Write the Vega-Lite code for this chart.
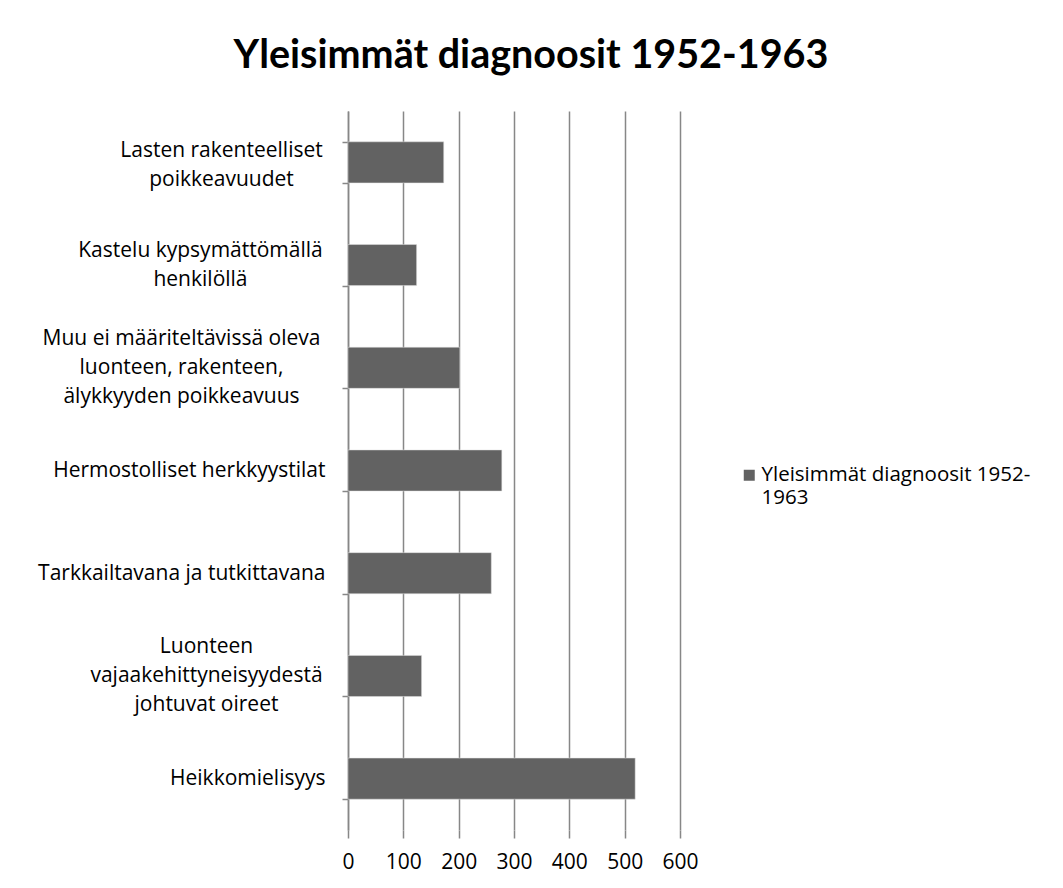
{
  "$schema": "https://vega.github.io/schema/vega-lite/v6.json",
  "width": 332,
  "height": 719,
  "autosize": {"type": "none"},
  "padding": {"left": 348, "top": 111, "right": 383, "bottom": 58},
  "background": "white",
  "title": {
    "text": "Yleisimmät diagnoosit 1952-1963",
    "font": "Lato",
    "fontSize": 39.5,
    "fontWeight": "bold",
    "color": "#000000",
    "anchor": "middle",
    "dx": 17,
    "baseline": "alphabetic",
    "offset": -7
  },
  "data": {
    "values": [
      {"diagnoosi": "Lasten rakenteelliset|poikkeavuudet", "maara": 173, "sarja": "Yleisimmät diagnoosit 1952-1963"},
      {"diagnoosi": "Kastelu kypsymättömällä|henkilöllä", "maara": 124, "sarja": "Yleisimmät diagnoosit 1952-1963"},
      {"diagnoosi": "Muu ei määriteltävissä oleva|luonteen, rakenteen,|älykkyyden poikkeavuus", "maara": 202, "sarja": "Yleisimmät diagnoosit 1952-1963"},
      {"diagnoosi": "Hermostolliset herkkyystilat", "maara": 278, "sarja": "Yleisimmät diagnoosit 1952-1963"},
      {"diagnoosi": "Tarkkailtavana ja tutkittavana", "maara": 259, "sarja": "Yleisimmät diagnoosit 1952-1963"},
      {"diagnoosi": "Luonteen|vajaakehittyneisyydestä|johtuvat oireet", "maara": 133, "sarja": "Yleisimmät diagnoosit 1952-1963"},
      {"diagnoosi": "Heikkomielisyys", "maara": 519, "sarja": "Yleisimmät diagnoosit 1952-1963"}
    ]
  },
  "mark": {"type": "bar", "stroke": "#e0e0e0", "strokeWidth": 0.5},
  "encoding": {
    "y": {
      "field": "diagnoosi",
      "type": "nominal",
      "sort": null,
      "scale": {"paddingInner": 0.6, "paddingOuter": 0.3},
      "axis": {
        "title": null,
        "labelExpr": "split(datum.label, '|')",
        "labelFont": "Open Sans",
        "labelFontSize": 21,
        "labelColor": "#000000",
        "labelLineHeight": 29,
        "labelLimit": 400,
        "labelAlign": {
          "condition": {"test": "datum.value === 'Lasten rakenteelliset|poikkeavuudet' || datum.value === 'Kastelu kypsymättömällä|henkilöllä' || datum.value === 'Muu ei määriteltävissä oleva|luonteen, rakenteen,|älykkyyden poikkeavuus' || datum.value === 'Luonteen|vajaakehittyneisyydestä|johtuvat oireet'", "value": "center"},
          "value": "right"
        },
        "labelPadding": {
          "condition": [
            {"test": "datum.value === 'Lasten rakenteelliset|poikkeavuudet'", "value": 121},
            {"test": "datum.value === 'Kastelu kypsymättömällä|henkilöllä'", "value": 142},
            {"test": "datum.value === 'Muu ei määriteltävissä oleva|luonteen, rakenteen,|älykkyyden poikkeavuus'", "value": 161},
            {"test": "datum.value === 'Luonteen|vajaakehittyneisyydestä|johtuvat oireet'", "value": 136}
          ],
          "value": 17
        },
        "labelOffset": {
          "condition": [
            {"test": "datum.value === 'Muu ei määriteltävissä oleva|luonteen, rakenteen,|älykkyyden poikkeavuus' || datum.value === 'Luonteen|vajaakehittyneisyydestä|johtuvat oireet'", "value": -29},
            {"test": "datum.value === 'Lasten rakenteelliset|poikkeavuudet'", "value": -12},
            {"test": "datum.value === 'Kastelu kypsymättömällä|henkilöllä'", "value": -14.5}
          ],
          "value": 0
        },
        "tickBand": "extent",
        "tickSize": 6,
        "tickColor": "#878787",
        "tickWidth": 1.5,
        "domainColor": "#878787",
        "domainWidth": 1.5,
        "grid": false
      }
    },
    "x": {
      "field": "maara",
      "type": "quantitative",
      "scale": {"domain": [0, 600], "nice": false},
      "axis": {
        "title": null,
        "values": [0, 100, 200, 300, 400, 500, 600],
        "domain": false,
        "grid": true,
        "gridColor": "#878787",
        "gridWidth": 1.5,
        "tickSize": 8,
        "tickColor": "#878787",
        "tickWidth": 1.5,
        "labelFont": "Open Sans",
        "labelFontSize": 21,
        "labelColor": "#000000",
        "labelPadding": 13,
        "labelFlush": false
      }
    },
    "color": {
      "field": "sarja",
      "type": "nominal",
      "scale": {"range": ["#626262"]},
      "legend": {
        "title": null,
        "orient": "none",
        "legendX": 391,
        "legendY": 354,
        "symbolType": "square",
        "symbolSize": 121,
        "symbolStrokeWidth": 0,
        "labelFont": "Open Sans",
        "labelFontSize": 20.5,
        "labelColor": "#000000",
        "labelLineHeight": 26,
        "labelLimit": 400,
        "labelOffset": 2,
        "labelExpr": "['Yleisimmät diagnoosit 1952-', '1963']"
      }
    }
  },
  "config": {"view": {"stroke": null}}
}
